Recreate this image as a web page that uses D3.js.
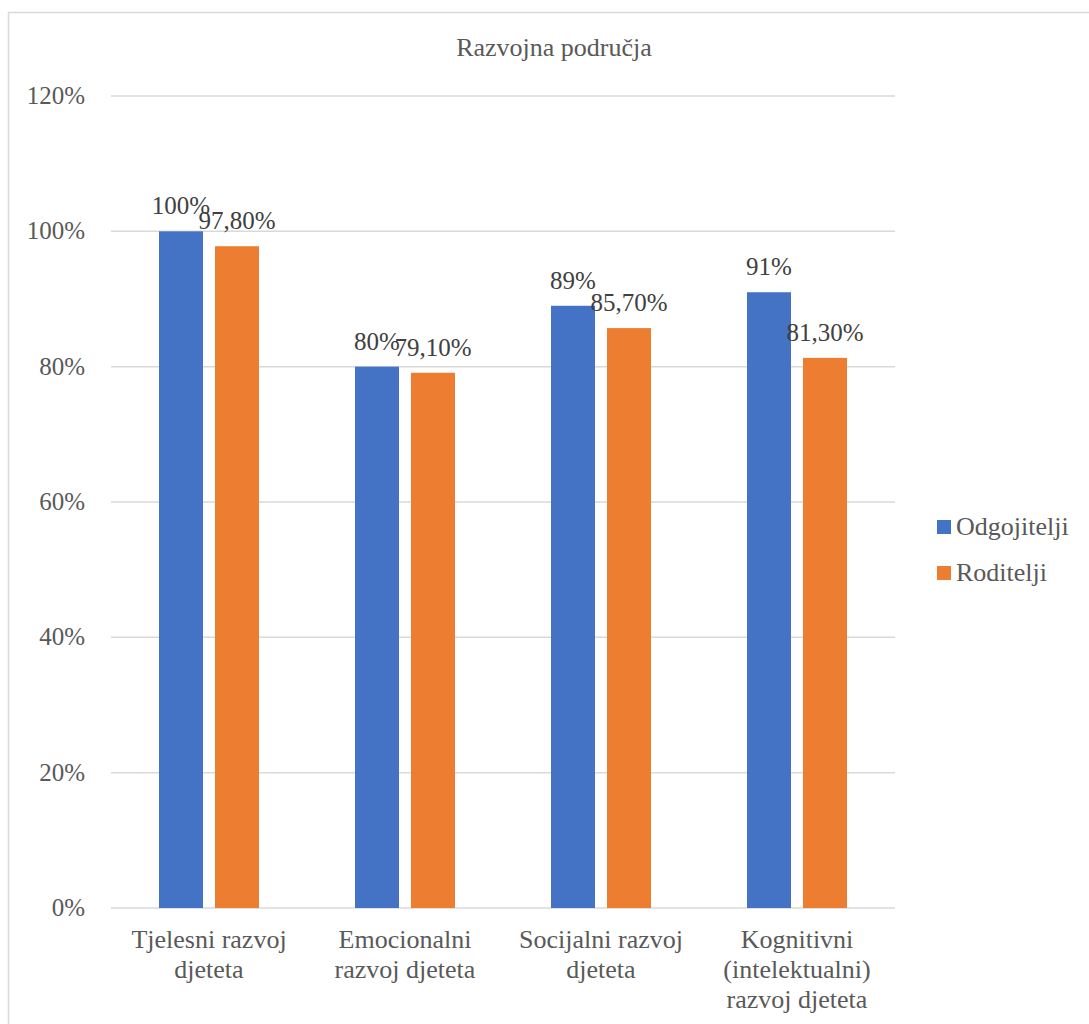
<!DOCTYPE html>
<html><head><meta charset="utf-8">
<script src="https://cdn.jsdelivr.net/npm/d3@7"></script>
<style>
body{margin:0;background:#fff;}
</style></head>
<body><svg id="c" width="1089" height="1024"></svg>
<script>
const categories = [["Tjelesni razvoj","djeteta"],["Emocionalni","razvoj djeteta"],["Socijalni razvoj","djeteta"],["Kognitivni","(intelektualni)","razvoj djeteta"]];
const seriesNames = ["Odgojitelji","Roditelji"];
const odgojitelji = [100, 80, 89, 91];
const roditelji = [97.8, 79.1, 85.7, 81.3];
const odgojiteljiLabels = ["100%","80%","89%","91%"];
const roditeljiLabels = ["97,80%","79,10%","85,70%","81,30%"];
const yTicks = [0,20,40,60,80,100,120];
const colors = ["#4472C4","#ED7D31"];
const title = "Razvojna područja";
const FONT = '"Liberation Serif"';

const svg = d3.select("#c");
svg.append("rect").attr("x",8.5).attr("y",12.5).attr("width",1100).attr("height",1100)
  .attr("fill","#fff").attr("stroke","#d9d9d9").attr("stroke-width",1.5);

const L=111,R=895,T=96,B=908;
const y = d3.scaleLinear().domain([0,120]).range([B,T]);
const keys = categories.map(c=>c.join(" "));
const x0 = d3.scaleBand().domain(keys).range([L,R]).padding(0);
const bw = x0.bandwidth();
const x1 = d3.scaleBand().domain(seriesNames).range([bw/2-50,bw/2+50]).paddingInner(0.2143).paddingOuter(0);

svg.append("text").attr("x",554).attr("y",56).attr("text-anchor","middle")
  .style("font-family",FONT).attr("font-size",26).attr("fill","#595959").text(title);

const g = svg.append("g");
g.selectAll("line.grid").data(yTicks).join("line")
  .attr("x1",L).attr("x2",R).attr("y1",d=>y(d)).attr("y2",d=>y(d))
  .attr("stroke","#d9d9d9").attr("stroke-width",1.5);
g.selectAll("text.tick").data(yTicks).join("text")
  .attr("x",85).attr("y",d=>y(d)+8).attr("text-anchor","end")
  .style("font-family",FONT).attr("font-size",25).attr("fill","#595959").text(d=>d+"%");

const data = keys.map((k,i)=>({k, vals:[
  {s:seriesNames[0],v:odgojitelji[i],lab:odgojiteljiLabels[i]},
  {s:seriesNames[1],v:roditelji[i],lab:roditeljiLabels[i]}]}));

const grp = g.selectAll("g.cat").data(data).join("g").attr("transform",d=>`translate(${x0(d.k)},0)`);
grp.selectAll("rect").data(d=>d.vals).join("rect")
  .attr("x",d=>x1(d.s)).attr("width",x1.bandwidth())
  .attr("y",d=>y(d.v)).attr("height",d=>B-y(d.v))
  .attr("fill",(d,i)=>colors[i]);
grp.selectAll("text.lab").data(d=>d.vals).join("text")
  .attr("x",d=>x1(d.s)+x1.bandwidth()/2).attr("y",d=>y(d.v)-17)
  .attr("text-anchor","middle").style("font-family",FONT).attr("font-size",25).attr("fill","#404040").text(d=>d.lab);

categories.forEach((c,i)=>{
  const cx = x0(keys[i])+bw/2;
  c.forEach((line,j)=>{
    svg.append("text").attr("x",cx).attr("y",948+j*30).attr("text-anchor","middle")
      .style("font-family",FONT).attr("font-size",26).attr("fill","#595959").text(line);
  });
});

const leg = svg.append("g");
seriesNames.forEach((s,i)=>{
  leg.append("rect").attr("x",937).attr("y",520+i*46).attr("width",14).attr("height",14).attr("fill",colors[i]);
  leg.append("text").attr("x",956).attr("y",535+i*46).style("font-family",FONT).attr("font-size",26).attr("fill","#595959").text(s);
});
</script></body></html>
